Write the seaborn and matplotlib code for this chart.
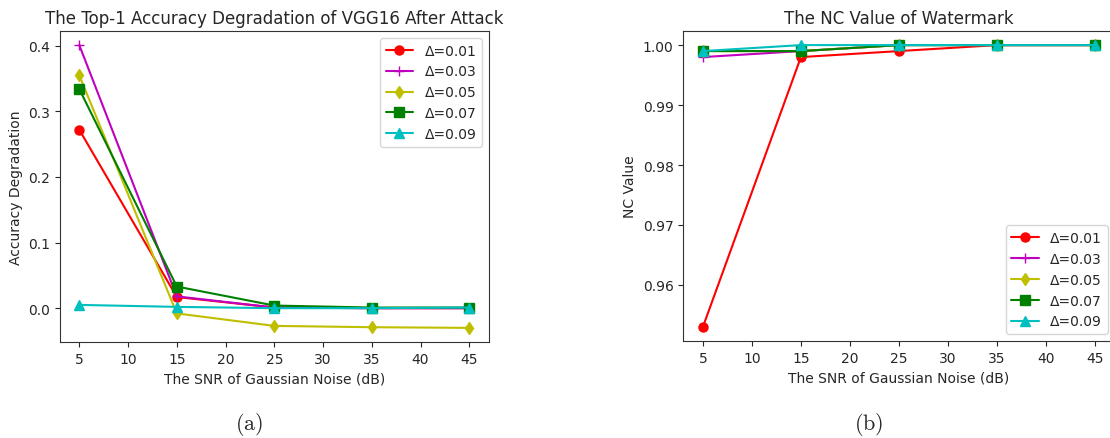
import numpy as np
import pandas as pd
import matplotlib
matplotlib.use("Agg")
import matplotlib.pyplot as plt
import seaborn as sns

# SNR levels (dB)
snr = [5, 15, 25, 35, 45]
deltas = ["Δ=0.01", "Δ=0.03", "Δ=0.05", "Δ=0.07", "Δ=0.09"]

# accuracy degradation after the noise attack
acc_001 = [0.272, 0.017, 0.001, 0.000, 0.000]
acc_003 = [0.401, 0.018, 0.001, 0.000, 0.000]
acc_005 = [0.355, -0.008, -0.027, -0.029, -0.030]
acc_007 = [0.334, 0.033, 0.004, 0.001, 0.001]
acc_009 = [0.005, 0.002, 0.000, 0.000, 0.001]

# NC value of the watermark
nc_001 = [0.953, 0.998, 0.999, 1.000, 1.000]
nc_003 = [0.998, 0.999, 1.000, 1.000, 1.000]
nc_005 = [0.999, 0.999, 1.000, 1.000, 1.000]
nc_007 = [0.999, 0.999, 1.000, 1.000, 1.000]
nc_009 = [0.999, 1.000, 1.000, 1.000, 1.000]

colors = ["r", "m", "y", "g", "c"]
markers = ["o", "+", "d", "s", "^"]

sns.set_style("ticks")
plt.rcParams["font.family"] = ["DejaVu Sans"]
plt.rcParams["mathtext.fontset"] = "cm"

fig = plt.figure(figsize=(11.1, 4.39), dpi=100)
ax1 = fig.add_axes([59.8 / 1110, 1 - 343 / 439, (488.8 - 59.8) / 1110, (343 - 32) / 439])
ax2 = fig.add_axes([683.3 / 1110, 1 - 342 / 439, (1114.6 - 683.3) / 1110, (342 - 32) / 439])


def draw(ax, series, loc):
    for vals, lab, c, m in zip(series, deltas, colors, markers):
        sns.lineplot(x=snr, y=vals, color=c, marker=m, markersize=6.5,
                     markeredgecolor=c, markeredgewidth=1, linewidth=1.5,
                     label=lab, ax=ax)
    ax.set_xticks([5, 10, 15, 20, 25, 30, 35, 40, 45])
    ax.set_xlabel("The SNR of Gaussian Noise (dB)", fontsize=10)
    ax.tick_params(labelsize=10)
    ax.legend(loc=loc, fontsize=10, frameon=True)
    for s in ax.spines.values():
        s.set_visible(True)
        s.set_color("#333333")


draw(ax1, [acc_001, acc_003, acc_005, acc_007, acc_009], "upper right")
ax1.set_title("The Top-1 Accuracy Degradation of VGG16 After Attack", fontsize=12)
ax1.set_ylabel("Accuracy Degradation", fontsize=10)
ax1.set_yticks([0.0, 0.1, 0.2, 0.3, 0.4])

draw(ax2, [nc_001, nc_003, nc_005, nc_007, nc_009], "lower right")
ax2.set_title("The NC Value of Watermark", fontsize=12)
ax2.set_ylabel("NC Value", fontsize=10)
ax2.set_yticks([0.96, 0.97, 0.98, 0.99, 1.00])
ax2.set_yticklabels(["0.96", "0.97", "0.98", "0.99", "1.00"])

fig.text(249 / 1110, 1 - 425 / 439, r"$\mathrm{(a)}$", fontsize=16, ha="center", va="center")
fig.text(869 / 1110, 1 - 425 / 439, r"$\mathrm{(b)}$", fontsize=16, ha="center", va="center")

fig.savefig("out.png", dpi=100)
